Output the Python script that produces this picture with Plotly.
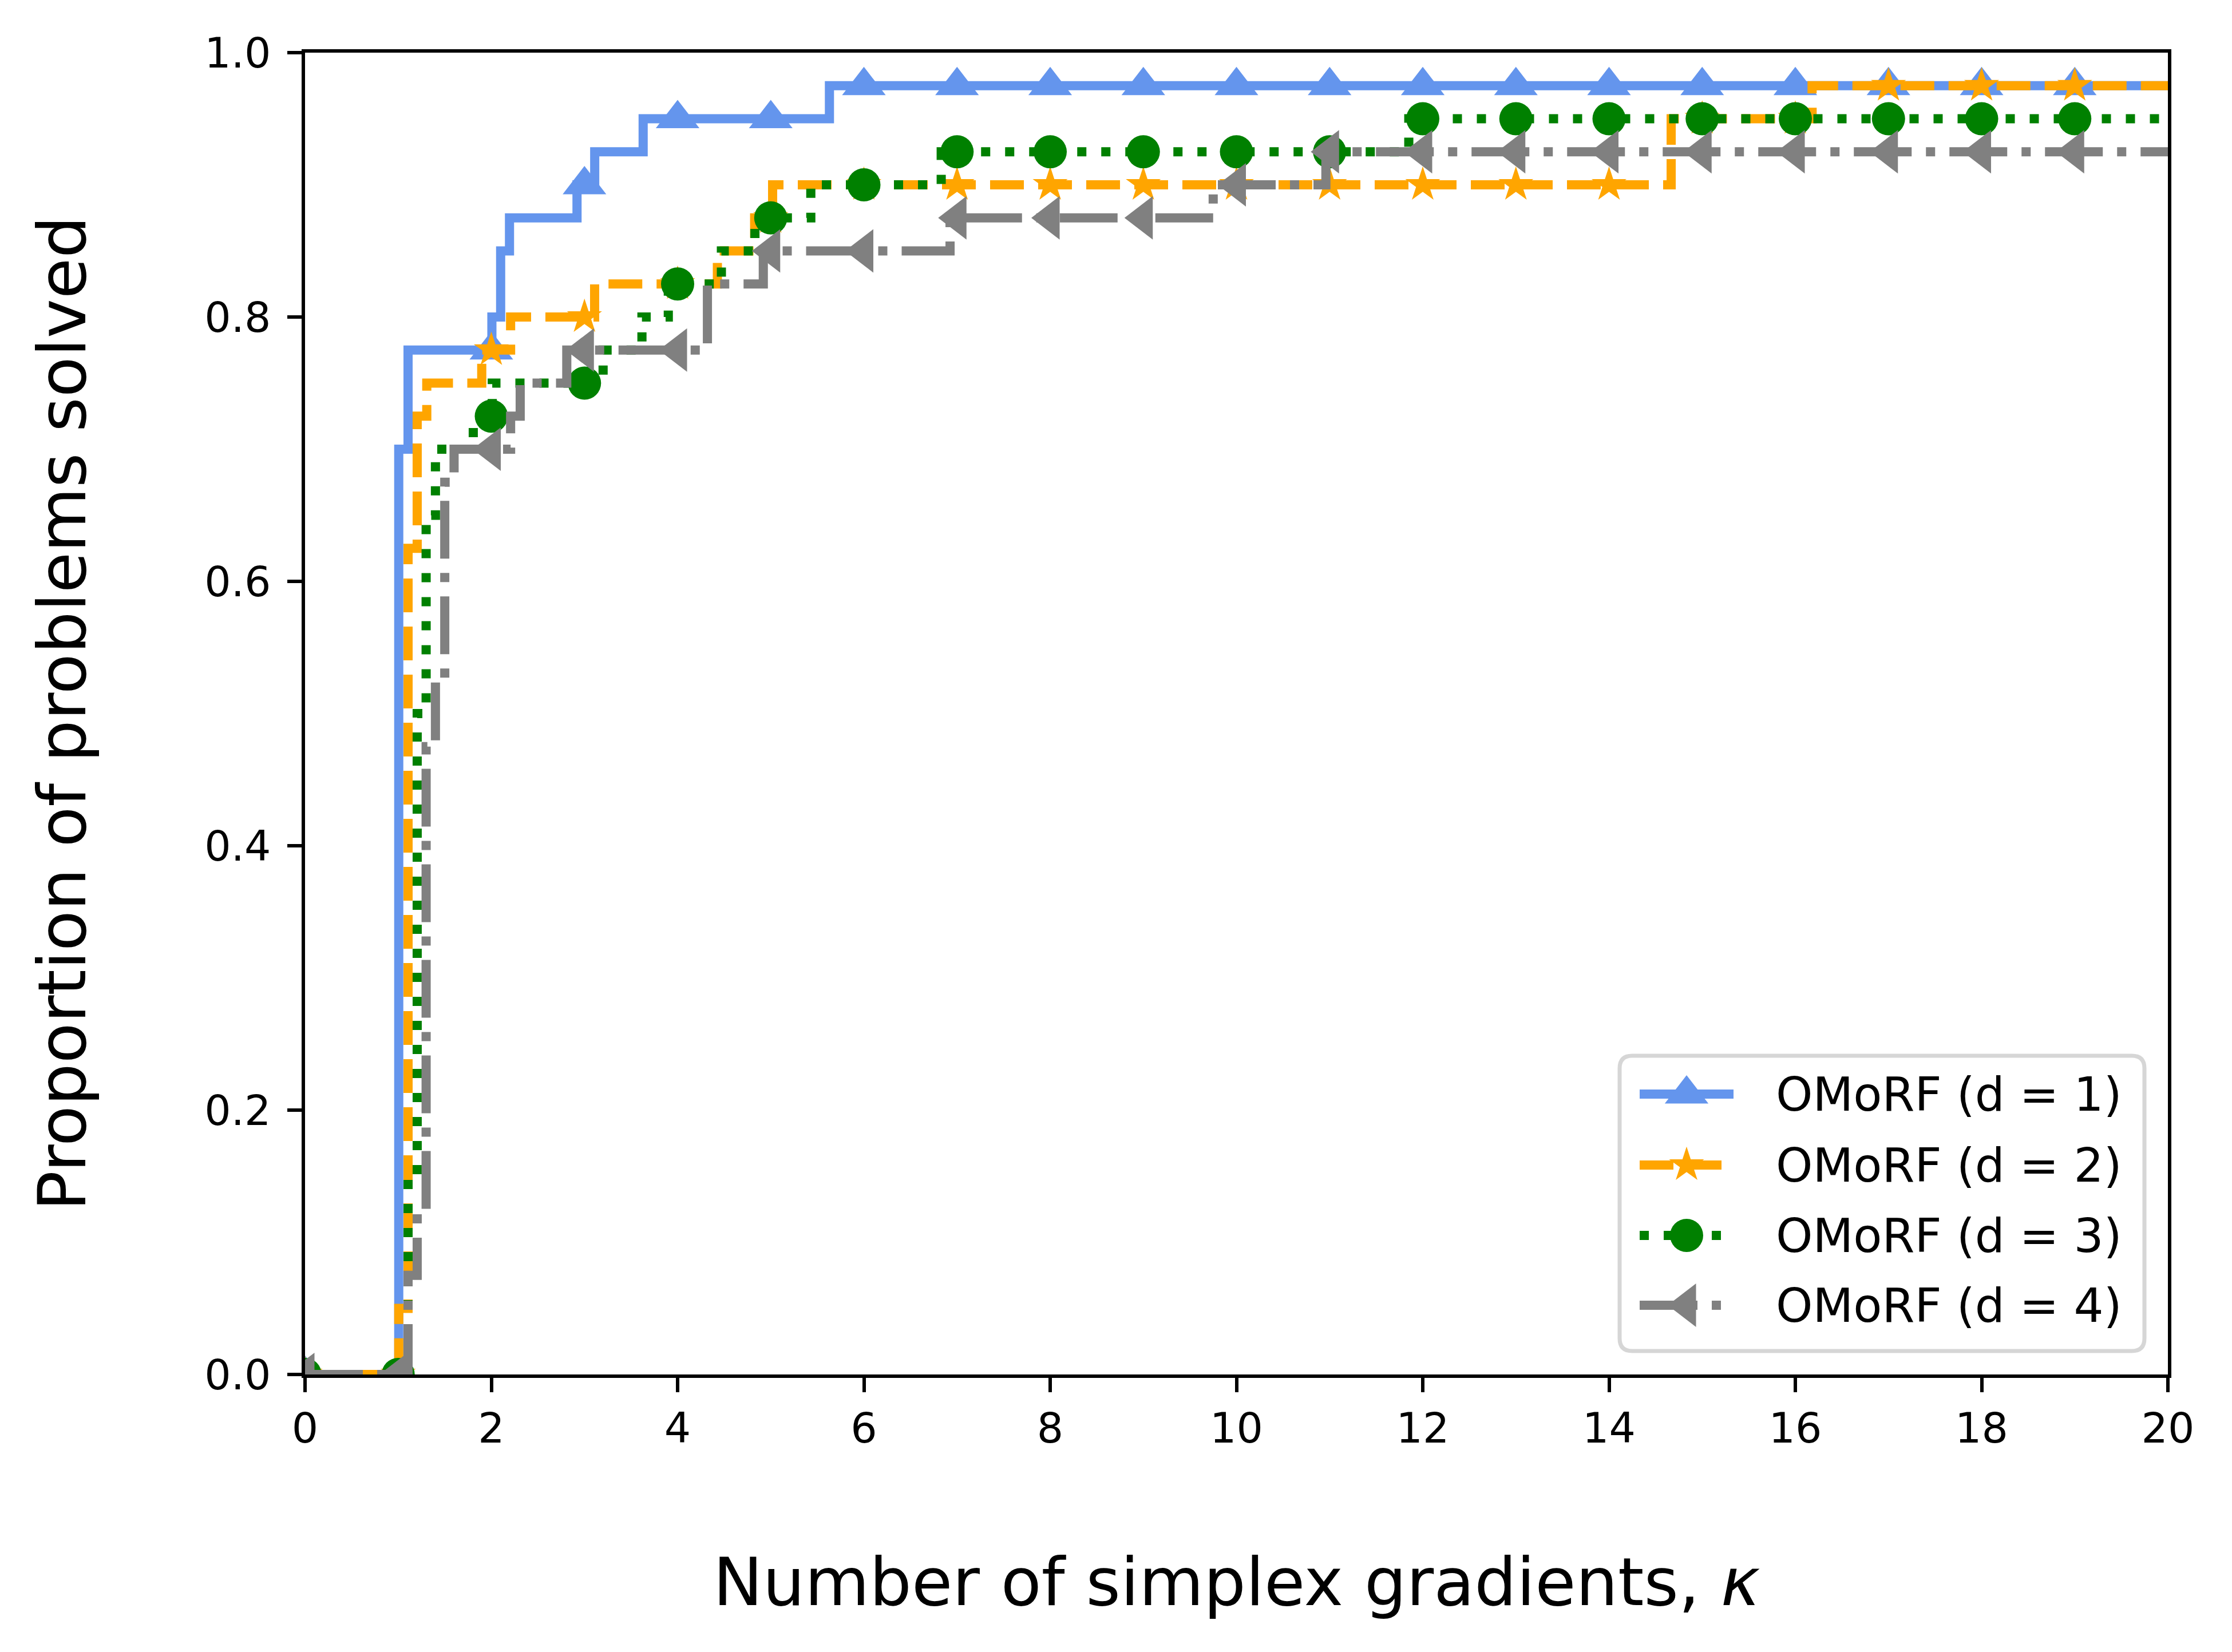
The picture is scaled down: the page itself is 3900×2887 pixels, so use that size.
import numpy as np
import plotly.graph_objects as go

# step curves: kappa where the proportion changes, proportion solved after that kappa
kappa_d1 = [0, 1.006, 1.106, 2.006, 2.10, 2.195, 2.92, 3.11, 3.63, 5.63, 20]
solved_d1 = [0.0, 0.700, 0.775, 0.800, 0.850, 0.875, 0.900, 0.925, 0.950, 0.975, 0.975]

kappa_d2 = [0, 1.006, 1.106, 1.204, 1.307, 1.897, 2.207, 3.109, 4.427, 4.827, 5.02, 14.667, 16.18, 20]
solved_d2 = [0.0, 0.050, 0.625, 0.725, 0.750, 0.775, 0.800, 0.825, 0.850, 0.875, 0.900, 0.950, 0.975, 0.975]

kappa_d3 = [0, 1.106, 1.204, 1.30, 1.40, 1.806, 2.01, 3.2, 3.617, 3.9, 4.47, 4.83, 5.43, 6.83, 11.85, 20]
solved_d3 = [0.0, 0.150, 0.500, 0.650, 0.700, 0.725, 0.750, 0.775, 0.800, 0.825, 0.850, 0.875, 0.900, 0.925, 0.950, 0.950]

kappa_d4 = [0, 1.106, 1.204, 1.30, 1.40, 1.50, 1.60, 2.207, 2.31, 2.81, 4.32, 4.92, 6.925, 9.75, 10.96, 20]
solved_d4 = [0.0, 0.075, 0.125, 0.475, 0.525, 0.675, 0.700, 0.725, 0.750, 0.775, 0.825, 0.850, 0.875, 0.900, 0.925, 0.925]

marker_kappa = list(range(20))
labels = ["OMoRF (d = 1)", "OMoRF (d = 2)", "OMoRF (d = 3)", "OMoRF (d = 4)"]
x_ticks = [0, 2, 4, 6, 8, 10, 12, 14, 16, 18, 20]
y_ticks = [0.0, 0.2, 0.4, 0.6, 0.8, 1.0]

colors = ["#6495ED", "#FFA500", "#008000", "#808080"]
dashes = ["solid", "59px,25px", "16px,26px", "101px,25px,16px,25px"]
symbols = ["triangle-up", "star", "circle", "triangle-left"]
sizes = [66, 46, 58, 66]

W, H = 3900, 2887
L, R, T, B = 533, 3788, 92, 2402   # plot area in pixels
FONT = "DejaVu Sans"


def px(x, y):
    # pixel position -> paper coordinates
    return (x - L) / (R - L), (B - y) / (B - T)


def rounded_box(x0, y0, x1, y1, r):
    a0, b1 = px(x0, y0)
    a1, b0 = px(x1, y1)
    rx = r / (R - L)
    ry = r / (B - T)
    return (f"M {a0+rx},{b0} L {a1-rx},{b0} Q {a1},{b0} {a1},{b0+ry} "
            f"L {a1},{b1-ry} Q {a1},{b1} {a1-rx},{b1} L {a0+rx},{b1} "
            f"Q {a0},{b1} {a0},{b1-ry} L {a0},{b0+ry} Q {a0},{b0} {a0+rx},{b0} Z")


series = [(kappa_d1, solved_d1), (kappa_d2, solved_d2),
          (kappa_d3, solved_d3), (kappa_d4, solved_d4)]

fig = go.Figure()

for i, (k, s) in enumerate(series):
    fig.add_trace(go.Scatter(
        x=k, y=s, mode="lines",
        line=dict(shape="hv", color=colors[i], width=16, dash=dashes[i]),
        showlegend=False, hoverinfo="skip"))
    idx = np.searchsorted(np.asarray(k), marker_kappa, side="right") - 1
    fig.add_trace(go.Scatter(
        x=marker_kappa, y=np.asarray(s)[idx], mode="markers",
        marker=dict(symbol=symbols[i], size=sizes[i], color=colors[i], line=dict(width=0)),
        showlegend=False, hoverinfo="skip"))

# hand-drawn legend, matplotlib style
fig.add_shape(type="path", xref="paper", yref="paper", layer="below",
              path=rounded_box(2830, 1845, 3747, 2361, 22),
              line=dict(color="#d6d6d6", width=7), fillcolor="white")

rows = [1912, 2036, 2159, 2281]
for i, ry in enumerate(rows):
    xa, ya = px(2865, ry)
    xb, _ = px(3029, ry)
    xm, _ = px(2947, ry)
    fig.add_trace(go.Scatter(
        x=[xa, xb], y=[ya, ya], xaxis="x2", yaxis="y2", mode="lines",
        line=dict(color=colors[i], width=16, dash=dashes[i]),
        showlegend=False, hoverinfo="skip", cliponaxis=False))
    fig.add_trace(go.Scatter(
        x=[xm], y=[ya], xaxis="x2", yaxis="y2", mode="markers",
        marker=dict(symbol=symbols[i], size=sizes[i], color=colors[i], line=dict(width=0)),
        showlegend=False, hoverinfo="skip", cliponaxis=False))
    xt, yt = px(3101, ry)
    fig.add_annotation(x=xt, y=yt, xref="paper", yref="paper", text=labels[i],
                       showarrow=False, xanchor="left", yanchor="middle",
                       font=dict(family=FONT, size=82, color="black"))

# axis titles
tx, ty = px((L + R) / 2, 2764)
fig.add_annotation(x=tx, y=ty, xref="paper", yref="paper",
                   text="Number of simplex gradients, <i>κ</i>", showarrow=False,
                   xanchor="center", yanchor="middle",
                   font=dict(family=FONT, size=116, color="black"))
lx, ly = px(108, (T + B) / 2)
fig.add_annotation(x=lx, y=ly, xref="paper", yref="paper",
                   text="Proportion of problems solved", showarrow=False, textangle=-90,
                   xanchor="center", yanchor="middle",
                   font=dict(family=FONT, size=116, color="black"))

axis_common = dict(showgrid=False, zeroline=False, showline=True, linecolor="black",
                   linewidth=6, mirror=True, ticks="outside", ticklen=25, tickwidth=6,
                   tickcolor="black", tickfont=dict(family=FONT, size=73, color="black"))

fig.update_layout(
    width=W, height=H,
    margin=dict(l=L, r=W - R, t=T, b=H - B, pad=0),
    paper_bgcolor="white", plot_bgcolor="white",
    showlegend=False,
    xaxis=dict(range=[0, 20], tickvals=x_ticks, ticklabelstandoff=0, **axis_common),
    yaxis=dict(range=[0, 1], tickvals=y_ticks, tickformat=".1f", ticklabelstandoff=14, **axis_common),
    xaxis2=dict(overlaying="x", range=[0, 1], visible=False, fixedrange=True),
    yaxis2=dict(overlaying="y", range=[0, 1], visible=False, fixedrange=True),
)

# page body margin would shift the figure by 8px
fig.write_html("out.html", config={"displayModeBar": False},
               post_script="document.body.style.margin='0';")
